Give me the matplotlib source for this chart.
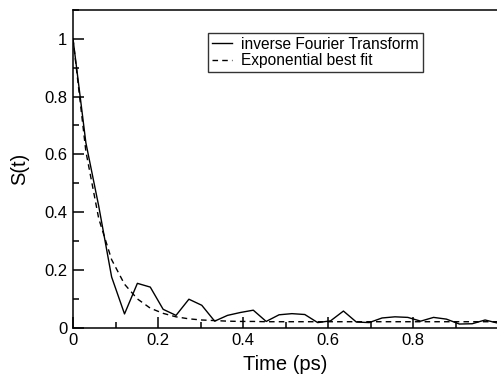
import matplotlib
matplotlib.use('Agg')
import matplotlib.pyplot as plt
from matplotlib.ticker import MultipleLocator

plt.rcParams['font.family'] = ['Liberation Sans', 'DejaVu Sans']

# time axis (ps)
time_ps = [0.0, 0.0303, 0.0606, 0.0909, 0.1212, 0.1515, 0.1818, 0.2121, 0.2424,
           0.2727, 0.3030, 0.3333, 0.3636, 0.3939, 0.4242, 0.4545, 0.4848,
           0.5151, 0.5454, 0.5757, 0.6060, 0.6363, 0.6666, 0.6969, 0.7272,
           0.7575, 0.7878, 0.8181, 0.8484, 0.8787, 0.9090, 0.9393, 0.9696, 0.9999]

# inverse Fourier transform
s_ift = [1.0, 0.64, 0.42, 0.175, 0.047, 0.153, 0.14, 0.063, 0.042,
         0.098, 0.077, 0.022, 0.042, 0.052, 0.060, 0.021, 0.044,
         0.048, 0.045, 0.017, 0.023, 0.057, 0.019, 0.017, 0.033,
         0.037, 0.035, 0.022, 0.035, 0.029, 0.012, 0.013, 0.026, 0.015]

# exponential best fit
s_fit = [1.0, 0.61, 0.377, 0.235, 0.150, 0.099, 0.067, 0.049, 0.037,
         0.030, 0.026, 0.024, 0.022, 0.021, 0.021, 0.020, 0.020,
         0.020, 0.020, 0.020, 0.020, 0.020, 0.020, 0.020, 0.020,
         0.020, 0.020, 0.020, 0.020, 0.020, 0.020, 0.020, 0.020, 0.020]

fig = plt.figure(figsize=(4.97, 3.76), dpi=100)
ax = fig.add_axes([73/497, 1-327.5/376, 425/497, 317.5/376])

ax.plot(time_ps, s_ift, color='black', lw=1.0, label='inverse Fourier Transform')
ax.plot(time_ps, s_fit, color='black', lw=1.0, ls=(0, (4, 3)), label='Exponential best fit')

ax.set_xlim(0, 1.0)
ax.set_ylim(0, 1.1)
ax.xaxis.set_minor_locator(MultipleLocator(0.1))
ax.yaxis.set_minor_locator(MultipleLocator(0.1))
ax.set_xticks([0, 0.2, 0.4, 0.6, 0.8])
ax.set_xticklabels(['0', '0.2', '0.4', '0.6', '0.8'])
ax.set_yticks([0, 0.2, 0.4, 0.6, 0.8, 1.0])
ax.set_yticklabels(['0', '0.2', '0.4', '0.6', '0.8', '1'])
ax.tick_params(which='both', direction='in', top=False, right=False,
               labelsize=12, width=1.1)
ax.tick_params(which='major', length=8, pad=4)
ax.tick_params(which='minor', length=4.5)
for sp in ax.spines.values():
    sp.set_linewidth(1.1)

ax.set_xlabel('Time (ps)', fontsize=14.5, labelpad=5)
ax.set_ylabel('S(t)', fontsize=14.5, labelpad=11)

leg = ax.legend(loc='upper left', bbox_to_anchor=(208/497, 1-33/376),
                bbox_transform=fig.transFigure, fontsize=11.2,
                frameon=True, fancybox=False, handlelength=1.3,
                handletextpad=0.6, labelspacing=0.1, borderpad=0.25,
                borderaxespad=0)
leg.get_frame().set_edgecolor('black')
leg.get_frame().set_linewidth(1.0)

fig.savefig('out.png', dpi=100)
